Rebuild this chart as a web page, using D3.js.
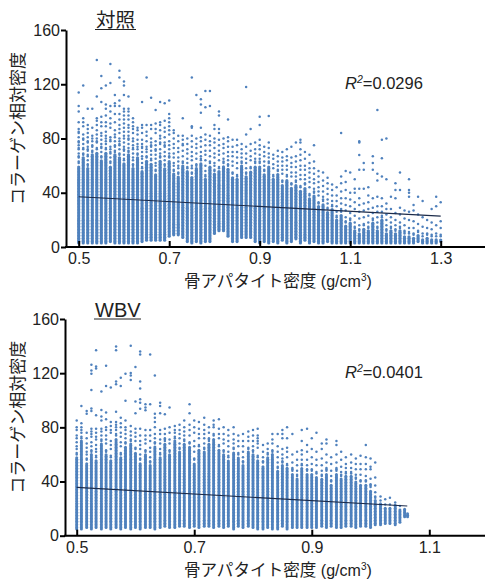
<!DOCTYPE html>
<html>
<head>
<meta charset="utf-8">
<script src="https://cdn.jsdelivr.net/npm/d3@7"></script>
<style>
  html, body { margin: 0; padding: 0; background: #fff; }
  text { font-family: "Liberation Sans", Arial, sans-serif; fill: #222; }
  .jp { font-family: "Noto Sans CJK JP", sans-serif; }
</style>
</head>
<body>
<div id="chart"></div>
<script>
// tick labels
const yTicks = [0, 40, 80, 120, 160];
const ctrlXTicks = [0.5, 0.7, 0.9, 1.1, 1.3];
const wbvXTicks = [0.5, 0.7, 0.9, 1.1];

// control panel: one entry per dot column
const ctrlColX = [0.50,0.51,0.52,0.53,0.54,0.55,0.56,0.57,0.58,0.59,0.60,0.61,0.62,0.63,0.64,0.65,0.66,0.67,0.68,0.69,
  0.70,0.71,0.72,0.73,0.74,0.75,0.76,0.77,0.78,0.79,0.80,0.81,0.82,0.83,0.84,0.85,0.86,0.87,0.88,0.89,
  0.90,0.91,0.92,0.93,0.94,0.95,0.96,0.97,0.98,0.99,1.00,1.01,1.02,1.03,1.04,1.05,1.06,1.07,1.08,1.09,
  1.10,1.11,1.12,1.13,1.14,1.15,1.16,1.17,1.18,1.19,1.20,1.21,1.22,1.23,1.24,1.25,1.26,1.27,1.28,1.29,1.30];
// bottom of the solid part of each column
const ctrlBottom = [3,3,3,3,3,3,3,4,3,3,3,3,3,3,4,5,5,5,5,5,
  8,9,9,7,4,3,4,3,4,4,10,12,12,8,4,4,7,7,7,4,
  3,4,3,4,3,5,3,4,6,3,5,3,4,3,3,4,3,3,3,3,
  3,3,3,3,3,3,3,3,3,3,3,3,3,3,3,4,3,3,3,3,4];
// top of the solid part of each column
const ctrlTop = [60,66,58,68,70,64,70,60,68,66,62,68,58,66,56,64,62,54,64,58,
  64,54,52,60,56,52,58,62,50,60,54,56,60,58,52,50,60,52,56,60,
  60,54,60,50,54,46,50,44,46,42,44,36,38,30,32,26,28,20,24,16,
  18,12,10,14,12,18,12,20,10,12,10,12,8,8,7,9,6,7,6,6,6];
// dots above the solid part of each column
const ctrlUpper = [
  [62,63,66,67,69,72,73,75,77,78,81,84,85,87,92,100,104,114],
  [68,69,72,73,76,79,80,83,89,92,95,119],
  [60,61,64,67,68,71,72,74,77,78,81,84,87,90,102],
  [70,71,74,75,78,80,82,88,102],
  [72,73,77,78,80,83,86,90,93,95,111,137.8],
  [66,67,70,73,74,76,79,82,84,89,92,96,107,117,126],
  [72,73,76,78,80,82,85,89,92,97,102,105,119],
  [62,63,66,69,70,72,74,78,79,81,88,91,95,100,104,121,135],
  [70,71,74,75,78,81,83,86,92,98,104,106,112],
  [68,69,72,75,76,78,80,84,87,90,94,98,104,108,125,130],
  [64,65,68,71,72,74,77,80,82,85,88,91,94,97,100,102,112,119,122],
  [70,71,73,76,79,80,82,85,88,90,94,97,100,102,111],
  [60,61,64,66,69,72,73,75,78,80,84,87,89,92,95],
  [68,69,72,74,76,79,83,86,88],
  [58,59,62,65,67,70,73,74,76,79,84,88,90,107],
  [66,67,70,72,74,78,82,85,90,125],
  [64,65,68,71,74,75,77,80,87,90,110],
  [56,57,60,62,65,68,71,72,75,78,84,87,91,101],
  [66,67,69,72,76,77,80,82,86,90,92,107],
  [60,61,64,67,70,74,75,77,81,85,88,93,106],
  [66,67,69,72,75,78,83,86,89,92,95,98,108],
  [56,57,60,62,66,69,73,76,80,84,86],
  [54,55,58,60,63,66,70,73,78,82],
  [62,63,67,71,75,76,79,82,95],
  [58,59,62,65,69,72,76,80],
  [54,55,58,60,64,67,70,74,78,82,88,89,125],
  [60,61,65,69,73,76,80,112],
  [64,65,67,70,74,78,81,88,99,105,109],
  [52,53,56,60,64,68,71,75,79,83,103,115],
  [62,63,67,71,75,78,82,104,115],
  [56,57,60,62,66,69,73,77,80,87,90],
  [58,59,64,68,71,75,79,84,87,97,100],
  [62,63,65,69,73,76,80],
  [60,61,64,67,70,74,78,81,94],
  [54,55,60,63,67,70,74,79],
  [52,53,58,62,66,70,75,79],
  [62,63,66,69,72,76],
  [54,55,58,62,65,69,74,83,118],
  [58,59,64,67,71,76,87],
  [62,63,65,69,72,77],
  [62,63,65,68,72,75,79,90,96],
  [56,57,60,63,67,70,74],
  [62,63,66,69,73,77,96.6],
  [52,53,58,61,65,68],
  [56,57,60,63,67,71],
  [48,49,54,57,60,63,66,70],
  [52,53,57,60,64,67,72],
  [46,47,52,55,59,62,66,74],
  [48,49,52,55,59,63,67,77],
  [44,45,50,53,57,60,64,68,72,77,79],
  [46,47,50,53,57,60,65,70],
  [38,39,44,48,51,55,58,62,68],
  [40,41,43,47,50,54,58,63,75],
  [32,33,38,41,44,48,52,56],
  [34,35,37,41,45,49,55],
  [28,29,32,35,39,43,47,51],
  [30,31,34,38,42,46],
  [22,23,26,30,34,38,44],
  [26,27,28,32,36,41,47,52,84],
  [18,19,22,27,31,36,42,48,56],
  [20,21,25,30,35,40,55],
  [14,15,18,23,28,33,40,43,50],
  [12,13,16,21,26,31,36,43,57,67.8,77,78],
  [16,17,22,27,32,43,57,62],
  [14,15,18,23,28,33,38,44],
  [20,21,25,29,36,57,62,67],
  [14,15,18,22,26,30,37,49,54,101],
  [22,23,26,30,36,52,65.5,79],
  [12,13,16,20,24,28,32,50,80],
  [14,15,18,22,28,37],
  [12,13,16,20,25,36,42,47],
  [14,15,18,24,29,42,55],
  [10,11,12,16,21,27],
  [10,11,14,20,26,37,40,42,50],
  [9,10,14,19,27,31],
  [11,12,17,24,37],
  [8,10,15,22,34],
  [9,10,14,20],
  [8,9,13,18,28],
  [8,10,16,30,37],
  [8,9,14,19,33]
];
const ctrlTrendX = [0.5, 1.3];
const ctrlTrendY = [37, 22.8];

// WBV panel: one entry per dot column
const wbvColX = [0.500,0.508,0.517,0.525,0.533,0.542,0.550,0.558,0.567,0.575,0.583,0.592,0.600,0.608,0.617,0.625,0.633,0.642,0.650,0.658,
  0.667,0.675,0.683,0.692,0.700,0.708,0.717,0.725,0.733,0.742,0.750,0.758,0.767,0.775,0.783,0.792,0.800,0.808,0.817,0.825,
  0.833,0.842,0.850,0.858,0.867,0.875,0.883,0.892,0.900,0.908,0.917,0.925,0.933,0.942,0.950,0.958,0.967,0.975,0.983,0.992,
  1.000,1.008,1.017,1.025,1.033,1.042,1.050,1.058,1.063];
const wbvBottom = [5,5,6,5,6,5,6,5,6,5,6,5,6,5,6,6,5,6,7,6,
  6,7,7,6,7,6,7,7,6,7,6,7,5,7,6,7,6,5,5,6,
  5,5,7,5,6,6,6,6,6,6,7,6,7,6,6,7,7,6,7,7,
  6,8,8,9,9,8,10,14,14];
const wbvTop = [58,70,54,60,56,68,60,56,72,58,66,68,62,54,60,52,66,58,68,60,
  70,62,68,66,54,64,62,68,72,64,60,56,62,58,52,62,60,56,52,58,
  60,48,52,50,46,42,50,46,46,44,42,46,38,46,42,44,44,40,38,38,
  34,26,24,21,21,23,20,20,17];
const wbvUpper = [
  [60,61,64,66,69,72,74,78,80,85],
  [72,73,76,78,80,83,95.8],
  [56,57,60,62,65,68,72,76,90,92],
  [62,63,66,69,73,75,77,79,92,94,107.5,119.6,121.9,126.3],
  [58,59,62,64,67,71,73,76,79,89,123.4,125,137],
  [70,71,74,77,79,85,88,92.8,106.5],
  [62,63,68,71,74,78,80,86,91,110.6,125.5],
  [58,59,64,67,70,76,78,81,84,109.4],
  [74,75,78,80,82,84,91.6,111.8,113.8,137,139.7],
  [60,61,66,69,73,76,80,83,87,110.6,116.7],
  [68,69,72,75,78,80,85,99.7,119.5],
  [70,71,74,77,81,115,118.3,120.2,140.3],
  [64,65,70,73,76,79,90.5,99,124.5],
  [56,57,60,64,67,70,74,79,93.7,98.2,100.7,108.6,113.8,133.8,136],
  [62,63,68,71,74,78,92.7,94.6,97],
  [54,55,58,62,65,70,74,78,97,133.8],
  [68,69,72,75,80,84,87,90,118.3],
  [60,61,64,68,71,75,78,90.5,95.8,98.2],
  [70,71,72,75,79,89.6],
  [62,63,68,71,76,80,94.6],
  [72,73,76,78,81],
  [64,65,68,72,75,78,82],
  [70,71,74,77,80,85],
  [68,69,74,78,82,90.5,97],
  [56,57,62,66,70,76,80,85],
  [66,67,72,75,79,84],
  [64,65,68,72,75,78,82,87],
  [70,71,72,76,80],
  [74,75,80,82,85],
  [66,67,72,75,79,86],
  [62,63,68,71,75,80],
  [58,59,62,66,70,74,78],
  [64,65,68,71,75,80],
  [60,61,66,70,74],
  [54,55,58,62,66,70,75],
  [64,65,70,73,77],
  [62,63,66,70,74,78],
  [58,59,65,68,70,72,74,79],
  [54,55,58,62,67],
  [60,61,64,68],
  [62,63,68,71,75],
  [50,51,54,58,62,66,75],
  [54,55,57,60,64,72,75,78],
  [52,53,58,62,65,72,80],
  [48,49,50,54,60,75],
  [44,45,48,52,56,62],
  [52,53,56,60,63,70,78],
  [48,49,52,56,62,67,79],
  [48,49,53,58,64,72],
  [46,47,52,56,62,76],
  [44,45,48,52,57,64,68],
  [48,49,50,54,60,68,71],
  [40,41,44,48,53,58],
  [48,49,50,54,60,67,70],
  [44,45,47,51,56,62],
  [46,47,50,53,58],
  [46,47,50,54,60],
  [42,43,45,49,53,57],
  [40,41,45,49,53,59],
  [40,41,44,49,53,58,67],
  [36,37,38,42,49,51,57],
  [28,29,32,37,43,54],
  [26,29],
  [23,27],
  [23,28],
  [24.5],
  [22],
  [],
  []
];
const wbvTrendX = [0.5, 1.0625];
const wbvTrendY = [35.7, 21.9];

// vertical distance between stacked dots in a column
const yStep = 1.12;
const dotColor = "#4f81bd";

const svg = d3.select("#chart").append("svg")
  .attr("width", 485)
  .attr("height", 580);

function columnsToDots(colX, bottom, top, upper, solidR) {
  const dots = [];
  colX.forEach((x, i) => {
    d3.range(bottom[i], top[i], yStep).forEach(y => dots.push({x: x, y: y, r: solidR}));
    upper[i].forEach(y => dots.push({x: x, y: y, r: 1.25}));
  });
  return dots;
}

function drawPanel(p) {
  const x = d3.scaleLinear().domain(p.xDomain).range(p.xRange);
  const y = d3.scaleLinear().domain([0, 160]).range([p.y0, p.y160]);

  const g = svg.append("g");

  g.append("g").selectAll("circle")
    .data(columnsToDots(p.colX, p.bottom, p.top, p.upper, p.dotR))
    .join("circle")
      .attr("cx", d => x(d.x))
      .attr("cy", d => y(d.y))
      .attr("r", d => d.r)
      .attr("fill", dotColor);

  g.append("path")
    .datum(d3.zip(p.trendX, p.trendY))
    .attr("d", d3.line().x(d => x(d[0])).y(d => y(d[1])))
    .attr("fill", "none")
    .attr("stroke", "#1c2b4a")
    .attr("stroke-width", 1.1);

  const yAxis = g.append("g")
    .attr("transform", `translate(${p.axisX},0)`)
    .call(d3.axisLeft(y).tickValues(yTicks).tickSize(5).tickPadding(1).tickSizeOuter(0));
  const xAxis = g.append("g")
    .attr("transform", `translate(0,${p.y0})`)
    .call(d3.axisBottom(x).tickValues(p.xTicks).tickFormat(d3.format(".1f")).tickSize(-6).tickPadding(6).tickSizeOuter(0));
  xAxis.select(".domain").remove();

  g.append("line")
    .attr("x1", p.axisX - 1).attr("x2", 485)
    .attr("y1", p.y0).attr("y2", p.y0)
    .attr("stroke", "#000").attr("stroke-width", 2);

  yAxis.selectAll("path,line").attr("stroke", "#000").attr("stroke-width", 2);
  xAxis.selectAll("line").attr("stroke", "#000").attr("stroke-width", 2);
  yAxis.selectAll("text").attr("font-size", 16).attr("font-family", null);
  xAxis.selectAll("text").attr("font-size", 16).attr("font-family", null);

  // panel title with its underline
  g.append("text")
    .attr("class", p.titleClass)
    .attr("x", p.titleX).attr("y", p.titleY)
    .attr("font-size", p.titleSize)
    .text(p.title);
  g.append("line")
    .attr("x1", p.titleX - 1).attr("x2", p.titleX + p.titleW)
    .attr("y1", p.lineY).attr("y2", p.lineY)
    .attr("stroke", "#222").attr("stroke-width", 1);

  // y label
  g.append("text")
    .attr("class", "jp")
    .attr("transform", `translate(24,${(p.y0 + p.y160) / 2 - 10}) rotate(-90)`)
    .attr("text-anchor", "middle")
    .attr("font-size", 17)
    .text("コラーゲン相対密度");

  // x label
  const xl = g.append("text")
    .attr("x", 184).attr("y", p.xLabelY)
    .attr("font-size", 16);
  xl.append("tspan").attr("class", "jp").attr("font-size", 16.6).text("骨アパタイト密度");
  xl.append("tspan").text(" (g/cm");
  xl.append("tspan").attr("font-size", 10).attr("dy", -6).text("3");
  xl.append("tspan").attr("dy", 6).text(")");

  // R2 note
  const r = g.append("text")
    .attr("x", 345).attr("y", p.r2Y)
    .attr("font-size", 16.5);
  r.append("tspan").attr("font-style", "italic").text("R");
  r.append("tspan").attr("font-style", "italic").attr("font-size", 10.5).attr("dy", -6).text("2");
  r.append("tspan").attr("dy", 6).attr("dx", 0).text("=" + p.r2);
}

drawPanel({
  colX: ctrlColX, bottom: ctrlBottom, top: ctrlTop, upper: ctrlUpper,
  trendX: ctrlTrendX, trendY: ctrlTrendY, xTicks: ctrlXTicks,
  xDomain: [0.5, 1.3], xRange: [78.7, 440.7], axisX: 66, y0: 247, y160: 30, dotR: 1.6,
  title: "対照", titleClass: "jp", titleX: 96, titleY: 27, titleSize: 19.5, titleW: 40, lineY: 29.5,
  xLabelY: 287, r2: "0.0296", r2Y: 89
});

drawPanel({
  colX: wbvColX, bottom: wbvBottom, top: wbvTop, upper: wbvUpper,
  trendX: wbvTrendX, trendY: wbvTrendY, xTicks: wbvXTicks,
  xDomain: [0.5, 1.1], xRange: [76.7, 429.3], axisX: 65, y0: 535.7, y160: 319, dotR: 1.5,
  title: "WBV", titleClass: "", titleX: 95, titleY: 316.5, titleSize: 20, titleW: 46, lineY: 319,
  xLabelY: 576, r2: "0.0401", r2Y: 378
});
</script>
</body>
</html>
